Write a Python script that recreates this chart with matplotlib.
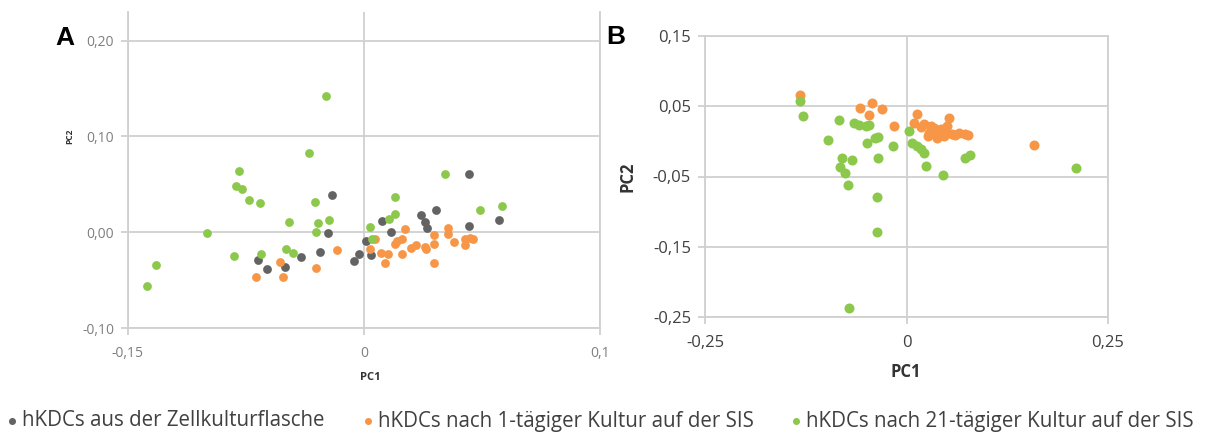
import matplotlib
matplotlib.use("Agg")
import matplotlib.pyplot as plt
from matplotlib.ticker import FixedLocator, FixedFormatter

# --- data: panel A (PC1, PC2) ---
a_flask_x = [-0.0204, -0.0229, -0.0280, -0.0403, -0.0500, -0.0617, -0.0674, -0.0032, -0.0064, 0.0015,
             0.0046, 0.0117, 0.0174, 0.0360, 0.0390, 0.0402, 0.0456, 0.0668, 0.0668, 0.0858]
a_flask_y = [0.0387, -0.0010, -0.0202, -0.0255, -0.0367, -0.0387, -0.0293, -0.0223, -0.0300, -0.0090,
             -0.0238, 0.0115, 0.0003, 0.0178, 0.0102, 0.0049, 0.0230, 0.0607, 0.0066, 0.0129]

a_day1_x = [-0.0536, -0.0689, -0.0515, -0.0303, -0.0174, 0.0036, 0.0068, 0.0110, 0.0132, 0.0153,
            0.0195, 0.0242, 0.0259, 0.0242, 0.0301, 0.0333, 0.0386, 0.0396, 0.0445, 0.0445,
            0.0445, 0.0534, 0.0534, 0.0572, 0.0640, 0.0644, 0.0672, 0.0693, 0.0210]
a_day1_y = [-0.0311, -0.0464, -0.0471, -0.0377, -0.0190, -0.0178, -0.0073, -0.0213, -0.0317, -0.0228,
            -0.0126, -0.0073, 0.0031, -0.0228, -0.0160, -0.0136, -0.0150, -0.0178, -0.0031, -0.0126,
            -0.0325, 0.0049, -0.0021, -0.0101, -0.0073, -0.0136, -0.0056, -0.0066, -0.0090]

a_day21_x = [-0.0244, -0.0350, -0.0797, -0.0812, -0.0776, -0.0731, -0.0663, -0.0313, -0.0479, -0.0292,
             -0.0224, -0.0303, -0.1000, -0.1324, -0.1377, -0.0826, -0.0653, -0.0497, -0.0451, 0.0036,
             0.0053, 0.0159, 0.0195, 0.0195, 0.0513, 0.0735, 0.0879]
a_day21_y = [0.1424, 0.0830, 0.0635, 0.0479, 0.0453, 0.0341, 0.0304, 0.0320, 0.0110, 0.0097,
             0.0129, 0.0000, -0.0012, -0.0339, -0.0559, -0.0251, -0.0223, -0.0175, -0.0220, 0.0054,
             -0.0073, 0.0136, 0.0188, 0.0363, 0.0607, 0.0234, 0.0269]

# --- data: panel B (PC1, PC2) ---
b_day1_x = [-0.1324, -0.0571, -0.0426, -0.0302, -0.0468, -0.0149, 0.0136, 0.0533, 0.0091, 0.0215,
            0.0277, 0.0339, 0.0422, 0.0463, 0.0505, 0.0567, 0.0649, 0.0732, 0.0381, 0.0265,
            0.0360, 0.0470, 0.0600, 0.0760, 0.0300, 0.0180, 0.1576]
b_day1_y = [0.0667, 0.0481, 0.0540, 0.0467, 0.0371, 0.0222, 0.0392, 0.0338, 0.0266, 0.0242,
            0.0123, 0.0195, 0.0170, 0.0074, 0.0218, 0.0099, 0.0123, 0.0099, 0.0051, 0.0083,
            0.0150, 0.0140, 0.0090, 0.0089, 0.0220, 0.0200, -0.0045]

b_day21_x = [-0.1323, -0.1285, -0.0842, -0.0650, -0.0587, -0.0505, -0.0462, -0.0975, -0.0356, -0.0385,
             -0.0490, -0.0165, 0.0029, 0.0070, 0.0130, 0.0180, 0.0223, -0.0798, -0.0674, -0.0351,
             -0.0827, -0.0757, -0.0728, 0.0244, 0.0455, 0.0722, 0.0794, 0.2105, -0.0372, -0.0372,
             -0.0716]
b_day21_y = [0.0580, 0.0367, 0.0306, 0.0263, 0.0235, 0.0216, 0.0235, 0.0020, 0.0066, 0.0045,
             -0.0030, -0.0059, 0.0146, -0.0020, -0.0070, -0.0110, -0.0164, -0.0236, -0.0260, -0.0236,
             -0.0365, -0.0450, -0.0618, -0.0346, -0.0475, -0.0234, -0.0191, -0.0379, -0.0786, -0.1288,
             -0.2365]

labels = ['hKDCs aus der Zellkulturflasche',
          'hKDCs nach 1-tägiger Kultur auf der SIS',
          'hKDCs nach 21-tägiger Kultur auf der SIS']
c_gray, c_orange, c_green = '#636363', '#F79646', '#8CC84B'
grid_c = '#D0D0D0'

plt.rcParams['font.family'] = ['Open Sans', 'DejaVu Sans']

fig = plt.figure(figsize=(12.09, 4.33), dpi=100)
W, H = 1209, 433

def style_axes(ax, xt, xl, yt, yl, tick_color, fsize, top_spine):
    ax.xaxis.set_major_locator(FixedLocator(xt))
    ax.xaxis.set_major_formatter(FixedFormatter(xl))
    ax.yaxis.set_major_locator(FixedLocator(yt))
    ax.yaxis.set_major_formatter(FixedFormatter(yl))
    ax.grid(True, color=grid_c, lw=1.3)
    ax.set_axisbelow(True)
    for side in ['left', 'right', 'bottom', 'top']:
        ax.spines[side].set_color(grid_c)
        ax.spines[side].set_linewidth(1.3)
    ax.spines['top'].set_visible(top_spine)
    ax.tick_params(axis='both', length=5, width=1.3, color=grid_c,
                   labelcolor=tick_color, labelsize=fsize)
    ax.tick_params(axis='x', pad=8)
    ax.tick_params(axis='y', pad=5)

# panel A
axA = fig.add_axes([128 / W, 1 - 328 / H, (600 - 128) / W, (328 - 12) / H])
sA = 40
sc_flask = axA.scatter(a_flask_x, a_flask_y, s=sA, color=c_gray, lw=0, zorder=3)
sc_day1 = axA.scatter(a_day1_x, a_day1_y, s=sA, color=c_orange, lw=0, zorder=3)
sc_day21 = axA.scatter(a_day21_x, a_day21_y, s=sA, color=c_green, lw=0, zorder=3)
axA.set_xlim(-0.15, 0.15)
axA.set_ylim(-0.10, 0.23)
style_axes(axA, [-0.15, 0, 0.15], ['-0,15', '0', '0,1'],
           [-0.10, 0.0, 0.10, 0.20], ['-0,10', '0,00', '0,10', '0,20'],
           '#7F7F7F', 10, False)

# panel B
axB = fig.add_axes([705 / W, 1 - 317 / H, (1108 - 705) / W, (317 - 36) / H])
sB = 52
axB.scatter(b_day1_x, b_day1_y, s=sB, color=c_orange, lw=0, zorder=3)
axB.scatter(b_day21_x, b_day21_y, s=sB, color=c_green, lw=0, zorder=3)
axB.set_xlim(-0.25, 0.25)
axB.set_ylim(-0.25, 0.15)
style_axes(axB, [-0.25, 0, 0.25], ['-0,25', '0', '0,25'],
           [-0.25, -0.15, -0.05, 0.05, 0.15], ['-0,25', '-0,15', '-0,05', '0,05', '0,15'],
           '#404040', 12, True)

# axis titles and panel letters
fig.text(370 / W, 1 - 378 / H, 'PC1', ha='center', va='center', fontsize=8,
         fontweight='bold', color='#333333')
fig.text(70 / W, 1 - 136 / H, 'PC2', ha='center', va='center', fontsize=6,
         fontweight='bold', color='#333333', rotation=90)
fig.text(906 / W, 1 - 372 / H, 'PC1', ha='center', va='center', fontsize=12,
         fontweight='bold', color='#333333')
fig.text(628 / W, 1 - 177 / H, 'PC2', ha='center', va='center', fontsize=12,
         fontweight='bold', color='#333333', rotation=90)
fig.text(65 / W, 1 - 38 / H, 'A', ha='center', va='center', fontsize=19,
         fontweight='bold', family=['Liberation Sans', 'DejaVu Sans'])
fig.text(616 / W, 1 - 37 / H, 'B', ha='center', va='center', fontsize=19,
         fontweight='bold', family=['Liberation Sans', 'DejaVu Sans'])

# legend: one entry per block, placed where the reference puts them
leg_fs = 14.8
handle_px = leg_fs * 100 / 72  # handlelength 1.0 in pixels
for handle, text, dot_x in zip([sc_flask, sc_day1, sc_day21], labels, [12, 368, 796]):
    leg = fig.legend([handle], [text], loc='center left',
                     bbox_to_anchor=((dot_x - handle_px / 2) / W, 1 - 421 / H),
                     frameon=False, fontsize=leg_fs, labelcolor='#404040',
                     handletextpad=0.0, markerscale=0.8, borderaxespad=0,
                     borderpad=0, handlelength=1.0)

fig.savefig('out.png', dpi=100)
